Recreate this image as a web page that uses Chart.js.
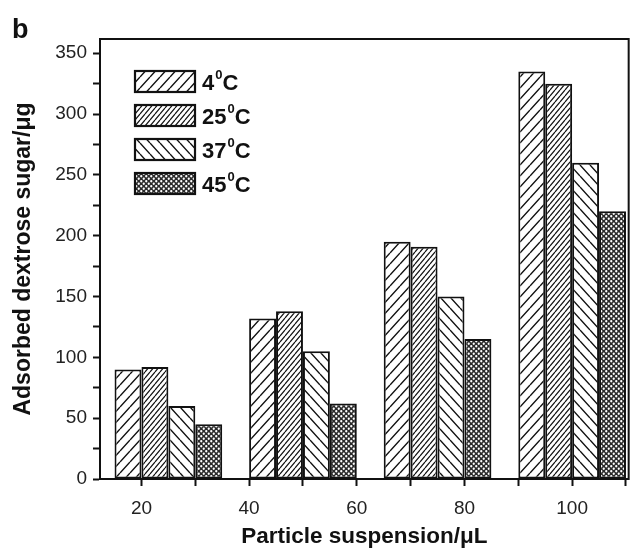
<!DOCTYPE html>
<html>
<head>
<meta charset="utf-8">
<script src="https://cdn.jsdelivr.net/npm/chart.js@4.4.1/dist/chart.umd.min.js"></script>
<style>
  html, body { margin: 0; padding: 0; background: #fff; }
</style>
</head>
<body>
<canvas id="graph-adsorption" width="637" height="550"></canvas>
<script>
// temperatures of the four series (shown as 4⁰C ... 45⁰C)
const temperatures = ['4', '25', '37', '45'];
// group centres on the particle suspension axis
const groupPositions = [25, 50, 75, 100];
const xTickLabels = [20, 40, 60, 80, 100];
const yTickLabels = [0, 50, 100, 150, 200, 250, 300, 350];

// adsorbed dextrose sugar (µg)
const sugar4C = [90, 132, 195, 335];
const sugar25C = [92, 138, 191, 325];
const sugar37C = [60, 105, 150, 260];
const sugar45C = [45, 62, 115, 220];

const FONT = '"Liberation Sans", Arial, Helvetica, sans-serif';
const INK = '#111';

function hatch(w, h, dir, lw) {
  const c = document.createElement('canvas');
  c.width = w; c.height = h;
  const g = c.getContext('2d');
  g.fillStyle = '#fff';
  g.fillRect(0, 0, w, h);
  g.strokeStyle = INK;
  g.lineWidth = lw;
  g.beginPath();
  for (let k = -1; k <= 1; k++) {
    if (dir > 0) { g.moveTo(k * w, h); g.lineTo(k * w + w, 0); }
    else { g.moveTo(k * w, 0); g.lineTo(k * w + w, h); }
  }
  g.stroke();
  return g.createPattern(c, 'repeat');
}

// dark mesh with white dots on a diagonal lattice
function dotMesh(s, r) {
  const c = document.createElement('canvas');
  c.width = s; c.height = s;
  const g = c.getContext('2d');
  g.fillStyle = '#2a2a2a';
  g.fillRect(0, 0, s, s);
  g.fillStyle = '#fff';
  g.beginPath();
  g.arc(s * 0.25, s * 0.25, r, 0, Math.PI * 2);
  g.arc(s * 0.75, s * 0.75, r, 0, Math.PI * 2);
  g.fill();
  return g.createPattern(c, 'repeat');
}

const patterns = [
  hatch(10, 11, 1, 1.4),
  hatch(5, 6, 1, 1.2),
  hatch(10, 11, -1, 1.4),
  dotMesh(5, 1.15)
];
const series = [sugar4C, sugar25C, sugar37C, sugar45C];

const keyPlugin = {
  id: 'frameAndKey',
  afterDatasetsDraw(chart) {
    const {ctx, chartArea: a} = chart;
    ctx.save();
    ctx.strokeStyle = INK;
    ctx.lineWidth = 2;
    ctx.strokeRect(a.left, a.top, a.right - a.left, a.bottom - a.top);

    chart.data.datasets.forEach((ds, i) => {
      const x = a.left + 35;
      const y = a.top + 32 + i * 34;
      ctx.fillStyle = ds.backgroundColor;
      ctx.fillRect(x, y, 60, 21);
      ctx.lineWidth = 2.2;
      ctx.strokeRect(x, y, 60, 21);
      ctx.fillStyle = INK;
      ctx.textBaseline = 'alphabetic';
      let tx = x + 67;
      const base = y + 19;
      ctx.font = 'bold 22px ' + FONT;
      ctx.fillText(temperatures[i], tx, base);
      tx += ctx.measureText(temperatures[i]).width + 1;
      ctx.font = 'bold 13px ' + FONT;
      ctx.fillText('0', tx, base - 11);
      tx += ctx.measureText('0').width;
      ctx.font = 'bold 22px ' + FONT;
      ctx.fillText('C', tx, base);
    });

    ctx.font = 'bold 27px ' + FONT;
    ctx.fillText('b', 12, 38);
    ctx.restore();
  }
};

const ctx = document.getElementById('graph-adsorption');
new Chart(ctx, {
  type: 'bar',
  data: {
    datasets: series.map((values, i) => ({
      label: temperatures[i] + '⁰C',
      data: groupPositions.map((x, j) => ({x: x, y: values[j]})),
      backgroundColor: patterns[i],
      borderColor: INK,
      borderWidth: 2,
      borderSkipped: false,
      categoryPercentage: 2,
      barPercentage: 1
    }))
  },
  options: {
    responsive: false,
    animation: false,
    devicePixelRatio: 1,
    layout: { padding: { top: 39, right: 5, left: 0, bottom: 0 } },
    plugins: {
      legend: { display: false },
      tooltip: { enabled: false }
    },
    scales: {
      x: {
        type: 'linear',
        offset: false,
        min: 12.3,
        max: 110.5,
        grid: { offset: false, drawOnChartArea: false, tickLength: 7, tickWidth: 2, tickColor: INK },
        border: { color: INK, width: 2 },
        ticks: {
          stepSize: 10,
          includeBounds: false,
          autoSkip: false,
          maxRotation: 0,
          padding: 11,
          color: '#222',
          font: { family: FONT, size: 19 },
          callback: v => xTickLabels.includes(v) ? String(v) : ''
        },
        title: {
          display: true,
          text: 'Particle suspension/μL',
          color: INK,
          font: { family: FONT, size: 22.5, weight: 'bold' },
          padding: { top: 0, bottom: 0 }
        },
        afterFit: s => { s.height = 71; }
      },
      y: {
        min: 0,
        max: 361.7,
        grid: { drawOnChartArea: false, tickLength: 7, tickWidth: 2, tickColor: INK },
        border: { color: INK, width: 2 },
        ticks: {
          stepSize: 25,
          includeBounds: false,
          autoSkip: false,
          padding: 6,
          color: '#222',
          font: { family: FONT, size: 19 },
          callback: v => yTickLabels.includes(v) ? String(v) : ''
        },
        title: {
          display: true,
          text: 'Adsorbed dextrose sugar/μg',
          color: INK,
          font: { family: FONT, size: 23, weight: 'bold' },
          padding: { top: 10, bottom: 0 }
        },
        afterFit: s => { s.width = 100; }
      }
    }
  },
  plugins: [keyPlugin]
});
</script>
</body>
</html>
